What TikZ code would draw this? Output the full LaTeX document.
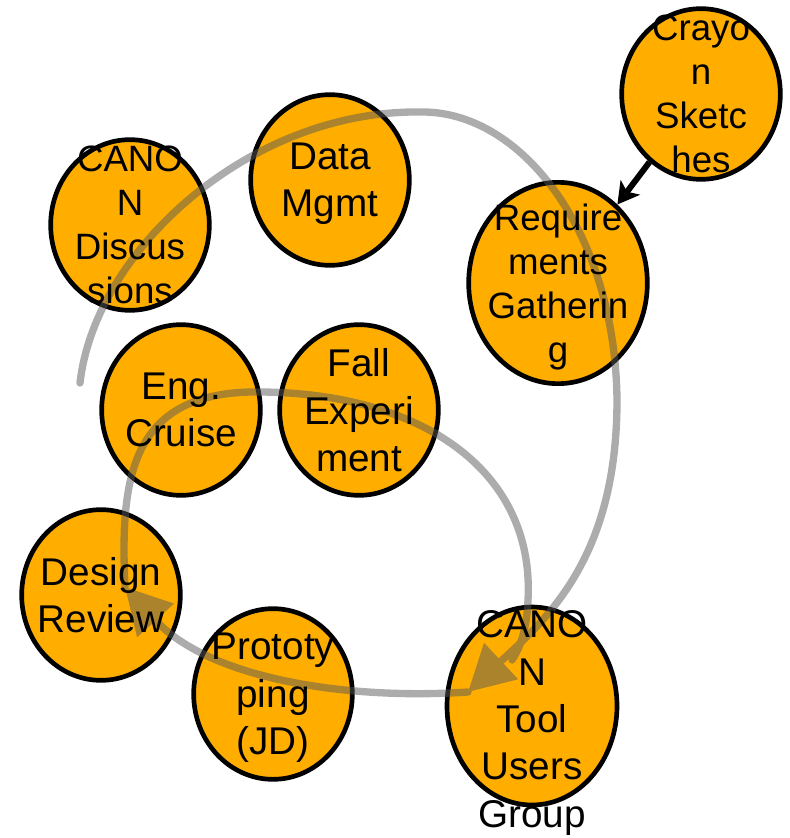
\documentclass[tikz,border=0pt]{standalone}
\usepackage{fontspec}
\setmainfont{Liberation Sans}
\usetikzlibrary{shapes.geometric,arrows.meta}

\definecolor{bubbleorange}{RGB}{255,174,0}

\tikzset{every picture/.style={line width=0.75pt}}
\tikzset{
  bubble/.style={ellipse, draw=black, line width=3.5pt, fill=bubbleorange,
    minimum width=119pt, minimum height=128pt, inner sep=0pt},
  bubtxt/.style={align=center, inner sep=0pt, text depth=0pt,
    font=\fontsize{29}{35.5}\selectfont},
  smalltxt/.style={bubtxt, font=\fontsize{27.5}{33}\selectfont},
  spiral/.style={draw=black!65, line width=5.5pt, line cap=round},
  spiraltip/.style={-{Triangle[length=34pt,width=36pt]}},
  crayonarrow/.style={draw=black, line width=4.5pt, -{Stealth[length=16pt,width=18pt,inset=4pt]}}
}

\begin{document}
\begin{tikzpicture}[x=0.75pt,y=0.75pt,yscale=-1,xscale=1]
    \useasboundingbox (0,0) rectangle (789,838);

    %Shape: Ellipse [bubbles]
    \node[bubble] (disc) at (130,225) {};
    \node[bubble] (data) at (330,180) {};
    \node[bubble] (crayon) at (701,94) {};
    \node[bubble, minimum width=134pt, minimum height=151pt] (req) at (558,283) {};
    \node[bubble] (eng) at (181,410) {};
    \node[bubble] (fall) at (359,410) {};
    \node[bubble] (design) at (101,595) {};
    \node[bubble] (proto) at (273,694) {};
    \node[bubble, minimum width=127.5pt, minimum height=148.5pt] (tool) at (532,706) {};

    %Curve Lines [spiral]
    \coordinate (sp0) at (80,383);
    \coordinate (sp1) at (420,112);
    \coordinate (sp2) at (617,400);
    \coordinate (sp3) at (468,692);
    \coordinate (sp4) at (125,587);
    \coordinate (sp5) at (250,392);
    \coordinate (sp6) at (528,600);
    \coordinate (sp7) at (512,660);
    \begin{scope}[transparency group, opacity=0.5]
    \draw[spiral, spiraltip] (sp0) .. controls (95,250) and (250,110) .. (sp1) .. controls (520,110) and (615,230) .. (sp2) .. controls (617,560) and (545,620) .. (sp3);
    \draw[spiral, spiraltip] (sp3) .. controls (350,700) and (210,680) .. (sp4);
    \draw[spiral] (sp4) .. controls (120,480) and (130,395) .. (sp5) .. controls (420,390) and (535,470) .. (sp6) .. controls (527,625) and (522,645) .. (sp7);
    \end{scope}

    % Text Node
    \node[smalltxt] (discT) at (disc) {CANO\\N\\Discus\\sions};
    % Text Node
    \node[bubtxt] (dataT) at (data) {Data\\Mgmt};
    % Text Node
    \node[smalltxt] (crayonT) at (crayon) {Crayo\\n\\Sketc\\hes};
    % Text Node
    \node[smalltxt] (reqT) at (req) {Require\\ments\\Gatherin\\g};
    % Text Node
    \node[bubtxt] (engT) at (eng) {Eng.\\Cruise};
    % Text Node
    \node[bubtxt] (fallT) at (fall) {Fall\\Experi\\ment};
    % Text Node
    \node[bubtxt] (designT) at (design) {Design\\Review};
    % Text Node
    \node[bubtxt] (protoT) at (proto) {Prototy\\ping\\(JD)};
    % Text Node
    \node[bubtxt] (toolT) at (532,719) {CANO\\N\\Tool\\Users\\Group};

    %Straight Lines [crayon to requirements]
    \draw[crayonarrow] (crayon) -- (req);

\end{tikzpicture}
\end{document}
